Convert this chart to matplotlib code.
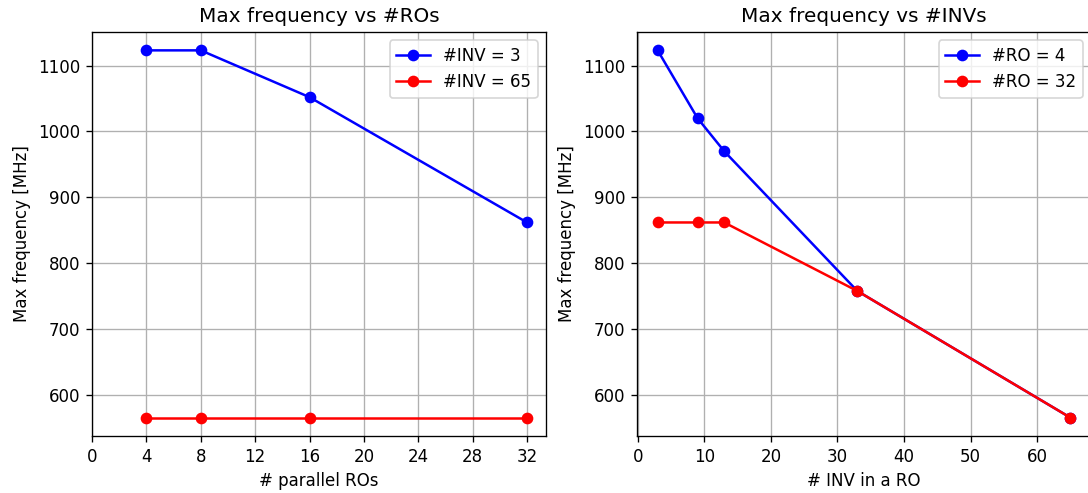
import matplotlib
matplotlib.use("Agg")
import matplotlib.pyplot as plt

# Left plot data
n_ro = [4, 8, 16, 32]
freq_inv3 = [1123, 1123, 1052, 862]
freq_inv65 = [566, 566, 566, 566]

# Right plot data
n_inv = [3, 9, 13, 33, 65]
freq_ro4 = [1123, 1020, 970, 758, 566]
freq_ro32 = [862, 862, 862, 758, 566]

left_ticks = [0, 4, 8, 12, 16, 20, 24, 28, 32]

DPI = 120
fig = plt.figure(figsize=(1088 / DPI, 493 / DPI), dpi=DPI)
ax1 = fig.add_axes([0.0846, 0.1156, 0.4173, 0.8195])
ax2 = fig.add_axes([0.5855, 0.1156, 0.4173, 0.8195])

ax1.plot(n_ro, freq_inv3, 'o-', color='blue', label='#INV = 3')
ax1.plot(n_ro, freq_inv65, 'o-', color='red', label='#INV = 65')
ax1.set_xticks(left_ticks)
ax1.set_xlim(left=0)
ax1.set_title('Max frequency vs #ROs')
ax1.set_xlabel('# parallel ROs')
ax1.set_ylabel('Max frequency [MHz]')
ax1.grid(True)
ax1.legend(loc='upper right')

ax2.plot(n_inv, freq_ro4, 'o-', color='blue', label='#RO = 4')
ax2.plot(n_inv, freq_ro32, 'o-', color='red', label='#RO = 32')
ax2.set_title('Max frequency vs #INVs')
ax2.set_xlabel('# INV in a RO')
ax2.set_ylabel('Max frequency [MHz]')
ax2.grid(True)
ax2.legend(loc='upper right')

fig.savefig('out.png', dpi=DPI)
